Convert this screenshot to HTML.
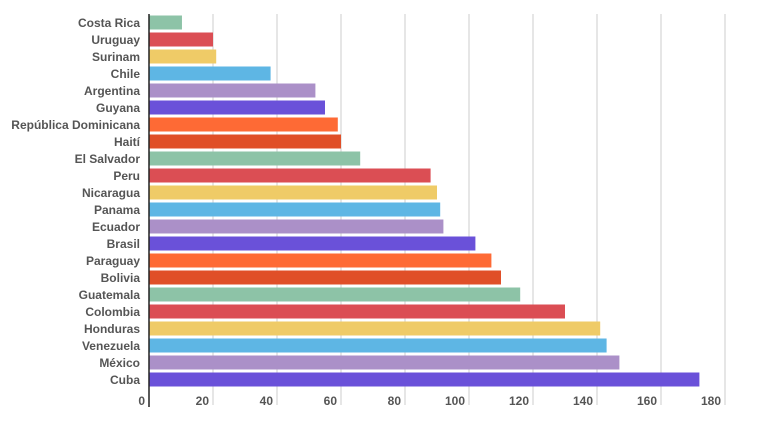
<!DOCTYPE html>
<html><head><meta charset="utf-8"><style>
body{margin:0;background:#fff;width:768px;height:422px;overflow:hidden;font-family:"Liberation Sans",sans-serif}
</style></head><body>
<svg id="chart" width="768" height="422" viewBox="0 0 768 422"></svg>
<script>
const categories=["Costa Rica","Uruguay","Surinam","Chile","Argentina","Guyana","República Dominicana","Haití","El Salvador","Peru","Nicaragua","Panama","Ecuador","Brasil","Paraguay","Bolivia","Guatemala","Colombia","Honduras","Venezuela","México","Cuba"];
const values=[10.3,20,21,38,52,55,59,60,66,88,90,91,92,102,107,110,116,130,141,143,147,172];
const tickValues=[0,20,40,60,80,100,120,140,160,180];
const colors=["#8dc3a7","#db4e54","#efcb67","#5eb6e4","#ab90c8","#6a51d9","#fe6a35","#e04f28"];
const svgEl=document.getElementById('chart');
const NS="http://www.w3.org/2000/svg";
const x0=149,pxPer=3.2,plotTop=14,step=17.0,barH=14;
const xs=v=>x0+v*pxPer;
const ys=i=>plotTop+i*step;
function mk(t,a){const e=document.createElementNS(NS,t);for(const k in a)e.setAttribute(k,a[k]);svgEl.appendChild(e);return e;}
tickValues.forEach(v=>{
 if(v>0){const g=mk('line',{x1:xs(v),x2:xs(v),y1:plotTop,y2:405,stroke:'#ccc','stroke-width':1});
 
 }
 const t=mk('text',{x:xs(v)-4,y:405,'text-anchor':'end','font-size':12,'font-weight':'bold',fill:'#555'});
 t.textContent=v;
 
 
});
categories.forEach((c,i)=>{
 const r=mk('rect',{x:x0,y:ys(i)+1.5,width:xs(values[i])-x0,height:barH,fill:colors[i%colors.length]});
 
 
 const t=mk('text',{x:140,y:ys(i)+13,'text-anchor':'end','font-size':12,'font-weight':'bold',fill:'#555'});
 t.textContent=c;
 
 
});
const ax=mk('line',{x1:x0,x2:x0,y1:plotTop,y2:407,stroke:'#222','stroke-width':1.5});


</script>
</body></html>
